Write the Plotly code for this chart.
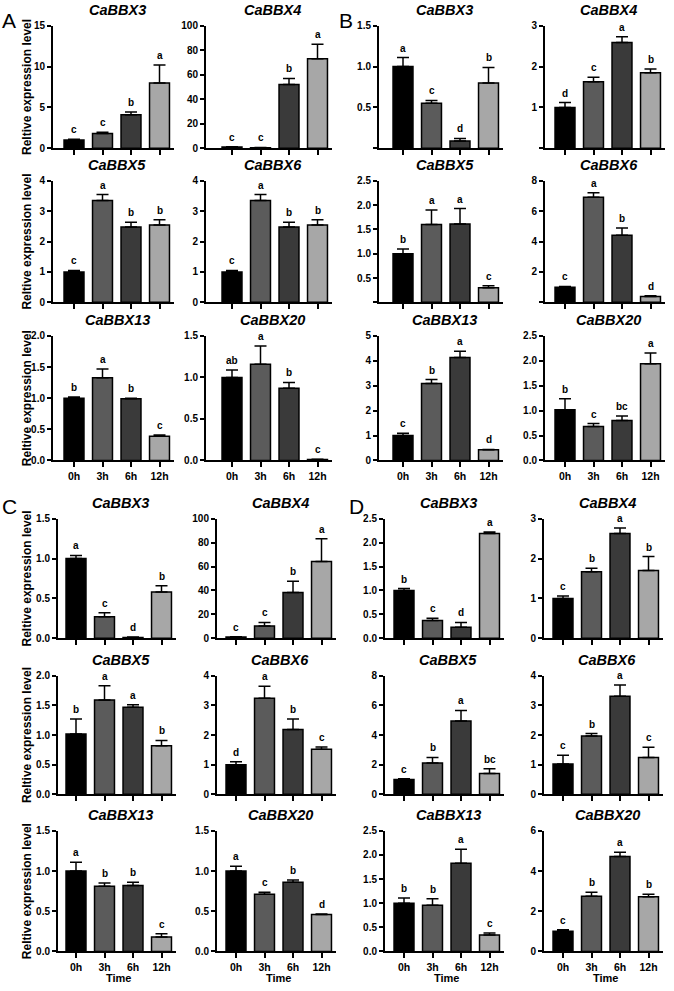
import plotly.graph_objects as go

# ---------------- data ----------------
genes = ["CaBBX3", "CaBBX4", "CaBBX5", "CaBBX6", "CaBBX13", "CaBBX20"]
times = ["0h", "3h", "6h", "12h"]

A_mean = [[1.0, 1.8, 4.1, 8.0], [1.0, 0.5, 52, 73], [1.0, 3.35, 2.48, 2.55],
          [1.0, 3.35, 2.48, 2.55], [1.0, 1.33, 0.99, 0.39], [1.0, 1.16, 0.87, 0.01]]
A_err = [[0.1, 0.15, 0.35, 2.2], [0.3, 0.2, 5, 12], [0.05, 0.2, 0.16, 0.17],
         [0.05, 0.2, 0.16, 0.17], [0.02, 0.14, 0.01, 0.02], [0.09, 0.22, 0.07, 0.005]]
A_sig = [["c", "c", "b", "a"], ["c", "c", "b", "a"], ["c", "a", "b", "b"],
         ["c", "a", "b", "b"], ["b", "a", "b", "c"], ["ab", "a", "b", "c"]]
A_ymax = [15, 100, 4, 4, 2.0, 1.5]
A_ystep = [5, 20, 1, 1, 0.5, 0.5]

B_mean = [[1.0, 0.55, 0.09, 0.8], [1.0, 1.63, 2.59, 1.85], [1.0, 1.6, 1.61, 0.3],
          [1.0, 6.92, 4.42, 0.39], [1.0, 3.09, 4.13, 0.43], [1.02, 0.68, 0.8, 1.94]]
B_err = [[0.11, 0.035, 0.03, 0.19], [0.12, 0.11, 0.14, 0.09], [0.1, 0.3, 0.32, 0.04],
         [0.05, 0.3, 0.48, 0.05], [0.09, 0.16, 0.26, 0.01], [0.22, 0.06, 0.09, 0.22]]
B_sig = [["a", "c", "d", "b"], ["d", "c", "a", "b"], ["b", "a", "a", "c"],
         ["c", "a", "b", "d"], ["c", "b", "a", "d"], ["b", "c", "bc", "a"]]
B_ymax = [1.5, 3, 2.5, 8, 5, 2.5]
B_ystep = [0.5, 1, 0.5, 2, 1, 0.5]

C_mean = [[1.0, 0.27, 0.01, 0.58], [1.0, 10.2, 38.3, 64.2], [1.02, 1.59, 1.47, 0.82],
          [1.0, 3.24, 2.19, 1.52], [1.0, 0.81, 0.82, 0.18], [1.0, 0.71, 0.86, 0.46]]
C_err = [[0.04, 0.05, 0.005, 0.08], [0.3, 3, 9.4, 19], [0.25, 0.24, 0.04, 0.09],
         [0.1, 0.41, 0.35, 0.08], [0.11, 0.04, 0.04, 0.04], [0.06, 0.025, 0.03, 0.005]]
C_sig = [["a", "c", "d", "b"], ["c", "c", "b", "a"], ["b", "a", "a", "b"],
         ["d", "a", "b", "c"], ["a", "b", "b", "c"], ["a", "c", "b", "d"]]
C_ymax = [1.5, 100, 2.0, 4, 1.5, 1.5]
C_ystep = [0.5, 20, 0.5, 1, 0.5, 0.5]

D_mean = [[1.0, 0.37, 0.23, 2.19], [1.0, 1.67, 2.63, 1.70], [1.0, 2.12, 4.95, 1.41],
          [1.02, 1.97, 3.31, 1.24], [1.0, 0.96, 1.83, 0.34], [1.0, 2.74, 4.73, 2.72]]
D_err = [[0.04, 0.05, 0.1, 0.03], [0.06, 0.09, 0.14, 0.35], [0.05, 0.37, 0.71, 0.32],
         [0.3, 0.08, 0.38, 0.35], [0.11, 0.13, 0.29, 0.04], [0.08, 0.2, 0.21, 0.13]]
D_sig = [["b", "c", "d", "a"], ["c", "b", "a", "b"], ["c", "b", "a", "bc"],
         ["c", "b", "a", "c"], ["b", "b", "a", "c"], ["c", "b", "a", "b"]]
D_ymax = [2.5, 3, 8, 4, 2.5, 6]
D_ystep = [0.5, 1, 2, 1, 0.5, 2]

# ---------------- layout geometry (px) ----------------
W, H = 674, 991
S = 28.5        # px per category
END = 14        # px after last bar centre
BAR_COLORS = ["#000000", "#5b5b5b", "#3a3a3a", "#a7a7a7"]
FONT = "Liberation Sans, Arial, sans-serif"

cols = {
    "top": [(53, 21), (206, 26), (379, 24), (545, 20)],
    "bot": [(58, 18), (217, 19), (385, 19), (544, 19)],
}
rows = {
    "top": [(20, 144), (177, 300), (334, 460)],
    "bot": [(519, 640), (678, 798), (835, 957)],
}

panels = [
    ("A", A_mean, A_err, A_sig, A_ymax, A_ystep, "top", 0, (0, 1)),
    ("B", B_mean, B_err, B_sig, B_ymax, B_ystep, "top", 1, (337, 1)),
    ("C", C_mean, C_err, C_sig, C_ymax, C_ystep, "bot", 0, (0, 493)),
    ("D", D_mean, D_err, D_sig, D_ymax, D_ystep, "bot", 1, (347, 493)),
]

fig = go.Figure()
annotations = []
layout = {}
idx = 0
for (pname, means, errs, sigs, ymaxs, ysteps, half, cset, lpos) in panels:
    annotations.append(dict(text=pname, x=lpos[0] / W, y=1 - lpos[1] / H, xref="paper", yref="paper",
                            xanchor="left", yanchor="top", showarrow=False,
                            font=dict(family=FONT, size=21, color="black")))
    for k in range(6):
        idx += 1
        r, c = k // 2, k % 2
        axis_x, gap = cols[half][cset * 2 + c]
        top, bot = rows[half][r]
        x_end = axis_x + gap + 3 * S + END
        xd = [axis_x / W, x_end / W]
        yd = [1 - bot / H, 1 - top / H]
        xname = "x" if idx == 1 else f"x{idx}"
        yname = "y" if idx == 1 else f"y{idx}"
        xkey = "xaxis" if idx == 1 else f"xaxis{idx}"
        ykey = "yaxis" if idx == 1 else f"yaxis{idx}"

        fig.add_trace(go.Bar(
            x=times, y=means[k], xaxis=xname, yaxis=yname, width=0.7,
            marker=dict(color=BAR_COLORS, line=dict(color="black", width=1.5)),
            error_y=dict(type="data", symmetric=False, array=errs[k], arrayminus=[0] * 4,
                         color="black", thickness=1.5, width=6),
            showlegend=False, hoverinfo="skip"))

        nt = int(round(ymaxs[k] / ysteps[k]))
        tv = [round(i * ysteps[k], 4) for i in range(nt + 1)]
        if ysteps[k] < 1:
            tt = [f"<b>{v:.1f}</b>" for v in tv]
        else:
            tt = [f"<b>{int(v)}</b>" for v in tv]
        if pname == "B" and r < 2:
            tt[0] = ""

        layout[xkey] = dict(domain=xd, anchor=yname, type="category", categoryorder="array",
                            categoryarray=times, range=[-gap / S, 3 + END / S],
                            tickvals=times, ticktext=[f"<b>{t}</b>" for t in times],
                            showline=True, linecolor="black", linewidth=2,
                            ticks="outside", ticklen=5, tickwidth=1.5, tickcolor="black",
                            showticklabels=(r == 2), showgrid=False, zeroline=False,
                            tickfont=dict(family=FONT, size=10.5, color="black"),
                            fixedrange=True)
        layout[ykey] = dict(domain=yd, anchor=xname, range=[0, ymaxs[k]],
                            tickvals=tv, ticktext=tt,
                            showline=True, linecolor="black", linewidth=2,
                            ticks="outside", ticklen=4, tickwidth=1.5, tickcolor="black",
                            showgrid=False, zeroline=False,
                            tickfont=dict(family=FONT, size=10, color="black"),
                            fixedrange=True)

        annotations.append(dict(text=f"<b><i>{genes[k]}</i></b>", x=(xd[0] + xd[1]) / 2 + 4 / W,
                                y=yd[1] + 6 / H,
                                xref="paper", yref="paper", xanchor="center", yanchor="bottom",
                                showarrow=False,
                                font=dict(family=FONT, size=14.5, color="black")))
        for j in range(4):
            annotations.append(dict(text=f"<b>{sigs[k][j]}</b>", x=times[j],
                                    y=means[k][j] + errs[k][j],
                                    xref=xname, yref=yname, xanchor="center", yanchor="bottom",
                                    yshift=2, showarrow=False,
                                    font=dict(family=FONT, size=10, color="black")))
        if c == 0 and pname in ("A", "C"):
            annotations.append(dict(text="<b>Reltive expression level</b>", x=27 / W,
                                    y=(yd[0] + yd[1]) / 2, xref="paper", yref="paper",
                                    xanchor="center", yanchor="middle", textangle=-90,
                                    showarrow=False,
                                    font=dict(family=FONT, size=12, color="black")))
        if r == 2 and pname in ("C", "D"):
            cx = axis_x + gap + 1.5 * S
            annotations.append(dict(text="<b>Time</b>", x=cx / W, y=1 - 984 / H,
                                    xref="paper", yref="paper",
                                    xanchor="center", yanchor="middle", showarrow=False,
                                    font=dict(family=FONT, size=11, color="black")))

fig.update_layout(width=W, height=H, autosize=False, margin=dict(l=0, r=0, t=0, b=0),
                  paper_bgcolor="white", plot_bgcolor="white", annotations=annotations,
                  bargap=0.3, **layout)
fig.write_html("out.html", config={"displayModeBar": False},
               post_script="document.documentElement.style.margin='0';document.body.style.margin='0';"
                           "document.documentElement.style.overflow='hidden';document.body.style.overflow='hidden';")
